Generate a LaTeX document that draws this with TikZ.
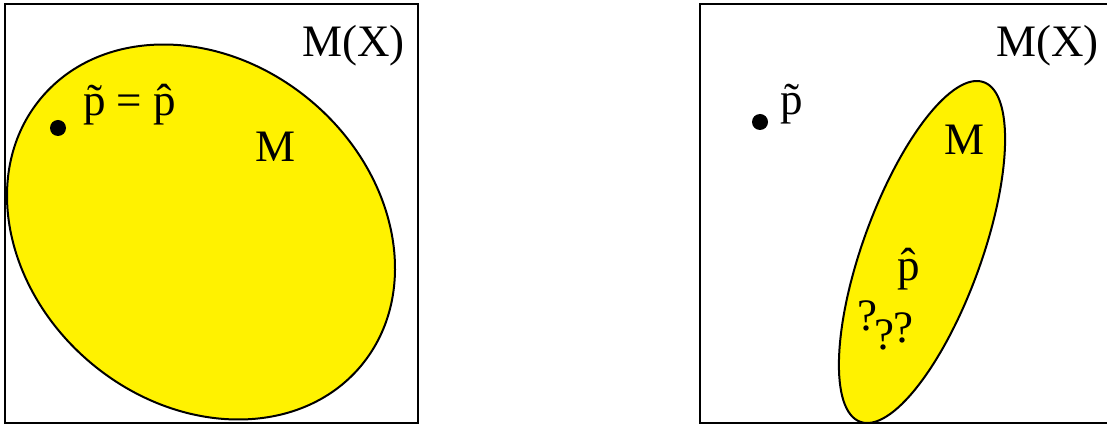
\documentclass[tikz,border=0pt]{standalone}
\usepackage{fontspec}
\setmainfont{Liberation Serif}
\begin{document}
\begin{tikzpicture}[x=1pt,y=-1pt,
  frame/.style={draw=black,line width=2pt},
  region/.style={draw=black,fill=yellow,line width=2pt},
  lbl/.style={anchor=base west,inner sep=0pt,font=\fontsize{45}{54}\selectfont},
  pt/.style={circle,fill=black,inner sep=0pt,minimum size=16pt}]
\useasboundingbox (0,0) rectangle (1107,427);
% left panel
\path[region] (201,232) ellipse [x radius=208.6, y radius=171.1, rotate=-40];
\draw[frame] (5,4) rectangle (418,423);
\node[lbl] (mxl) at (302,57) {M(X)};
\node[lbl] (ml) at (255,162) {M};
\node[pt] (dl) at (58,128) {};
\node[lbl] (pl) at (83,116) {\~{p} = \^{p}};
% right panel
\path[region] (922,252) ellipse [x radius=180.7, y radius=59.1, rotate=70];
\draw[frame] (700,4) rectangle (1115,423);
\node[lbl] (mxr) at (996,57) {M(X)};
\node[lbl] (mr) at (944,155) {M};
\node[pt] (dr) at (760,122) {};
\node[lbl] (ptr) at (780,115) {\~{p}};
\node[lbl] (phr) at (897,280) {\^{p}};
\node[lbl] (qq) at (857,330) {?\kern-3pt\raisebox{-20pt}{?}\kern-1pt\raisebox{-13pt}{?}};
\end{tikzpicture}
\end{document}
